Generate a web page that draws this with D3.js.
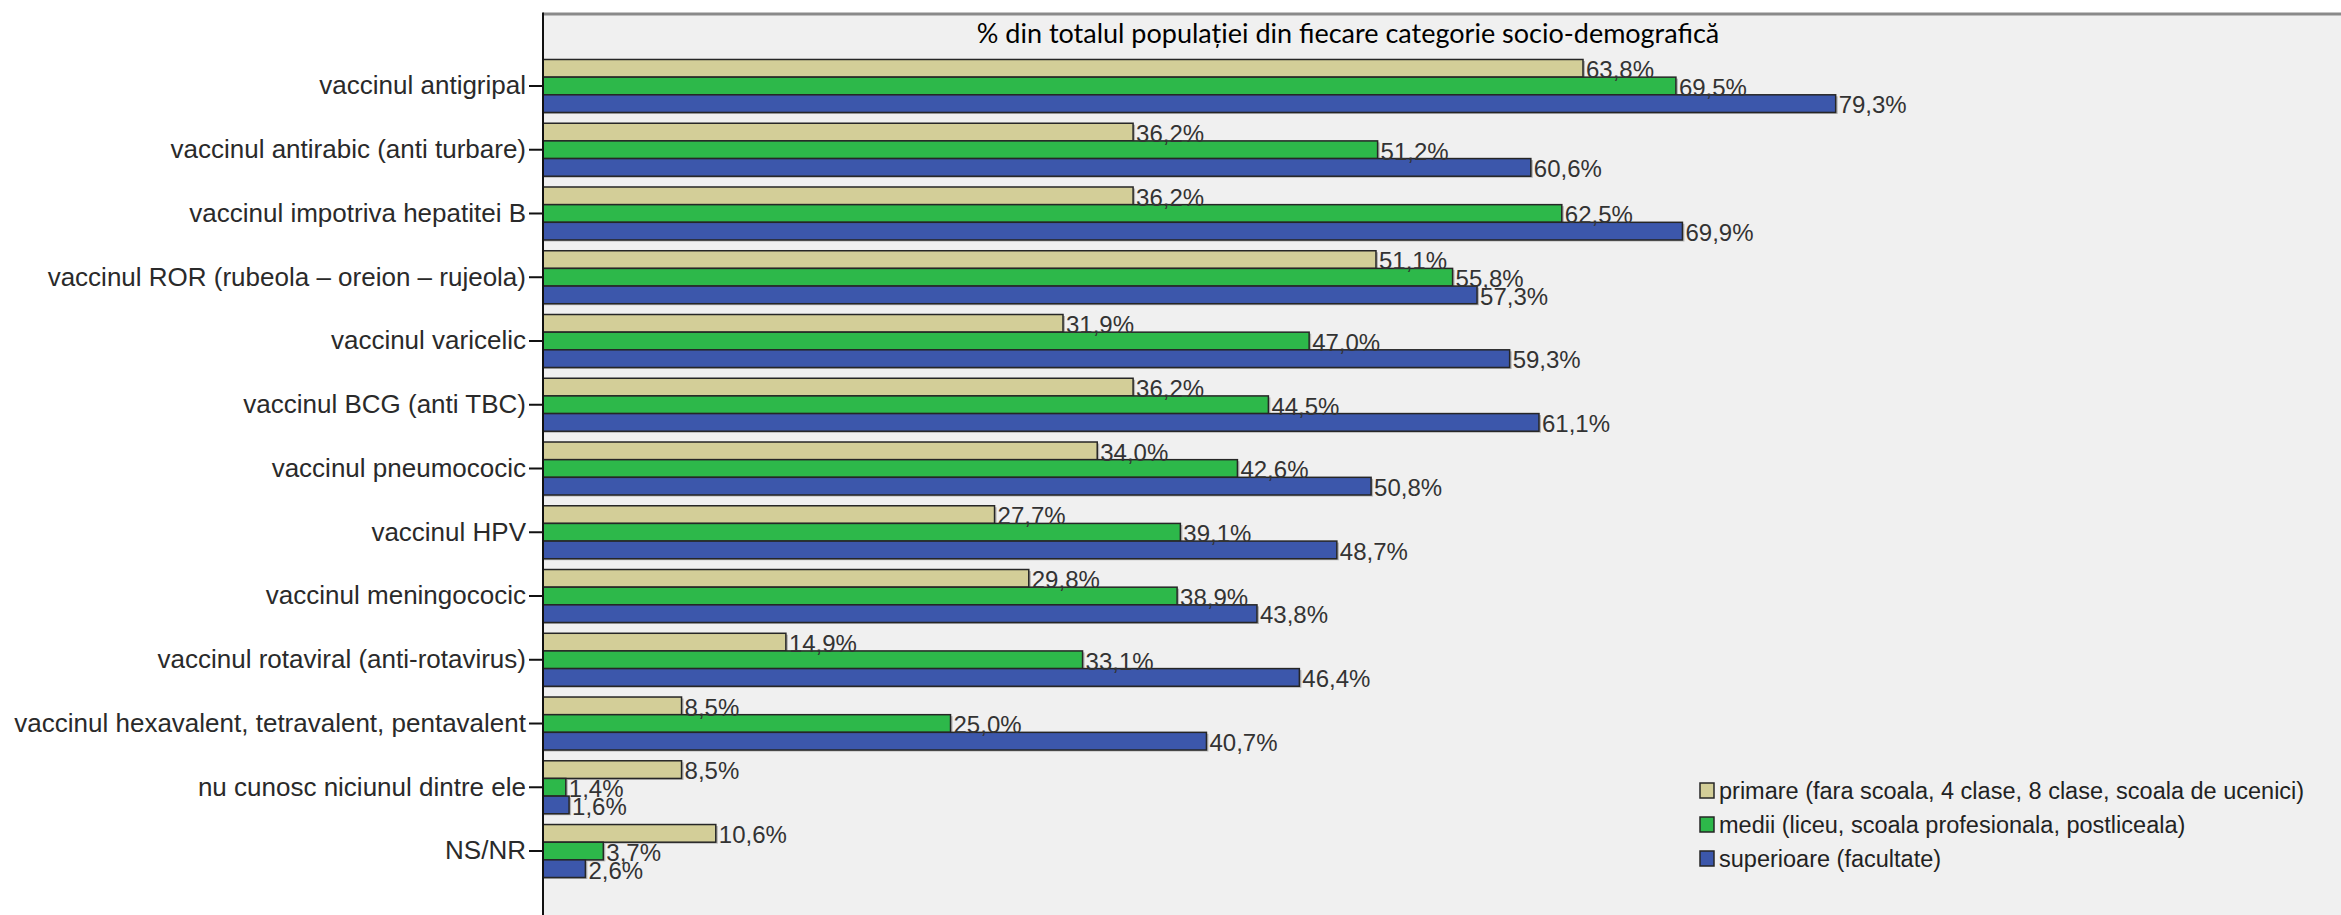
<!DOCTYPE html>
<html>
<head>
<meta charset="utf-8">
<script src="https://cdn.jsdelivr.net/npm/d3@7"></script>
<style>
    body { margin:0; background:#fff; }
    #chart { width:2341px; height:915px; }
</style>
</head>
<body>
<div id="chart"></div>
<script>

var categories = [
    "vaccinul antigripal",
    "vaccinul antirabic (anti turbare)",
    "vaccinul impotriva hepatitei B",
    "vaccinul ROR (rubeola \u2013 oreion \u2013 rujeola)",
    "vaccinul varicelic",
    "vaccinul BCG (anti TBC)",
    "vaccinul pneumococic",
    "vaccinul HPV",
    "vaccinul meningococic",
    "vaccinul rotaviral (anti-rotavirus)",
    "vaccinul hexavalent, tetravalent, pentavalent",
    "nu cunosc niciunul dintre ele",
    "NS/NR"
];

var seriesNames = [
    "primare (fara scoala, 4 clase, 8 clase, scoala de ucenici)",
    "medii (liceu, scoala profesionala, postliceala)",
    "superioare (facultate)"
];

var primare    = [63.8, 36.2, 36.2, 51.1, 31.9, 36.2, 34.0, 27.7, 29.8, 14.9, 8.5, 8.5, 10.6];
var medii      = [69.5, 51.2, 62.5, 55.8, 47.0, 44.5, 42.6, 39.1, 38.9, 33.1, 25.0, 1.4, 3.7];
var superioare = [79.3, 60.6, 69.9, 57.3, 59.3, 61.1, 50.8, 48.7, 43.8, 46.4, 40.7, 1.6, 2.6];

var colors = ["#d3ce98", "#2db84a", "#3c57ab"];

var title = "% din totalul popula\u021biei din fiecare categorie socio-demografic\u0103";

(function draw() {

    var width = 2341, height = 915;
    var plot = {left:543, top:14, right:2341, bottom:915};

    var svg = d3.select("#chart")
        .append("svg")
        .attr("width", width)
        .attr("height", height);

    // rows for the bars
    var rows = categories.map(function(c, i) {
        return {cat:c, values:[primare[i], medii[i], superioare[i]]};
    });

    var x = d3.scaleLinear().domain([0, 110.3]).range([plot.left, plot.right]);

    var y = d3.scaleBand()
        .domain(categories)
        .range([54.1, 882.9])
        .paddingInner(0.169)
        .paddingOuter(0.0845);

    var ySub = d3.scaleBand().domain([0, 1, 2]).range([0, y.bandwidth()]);

    var locale = d3.formatLocale({decimal:",", thousands:".", grouping:[3], currency:["", ""]});
    var fmt = locale.format(".1f");

    // plot background + frame
    svg.append("rect")
        .attr("x", plot.left).attr("y", plot.top)
        .attr("width", plot.right - plot.left).attr("height", plot.bottom - plot.top)
        .attr("fill", "#f0f0f0");

    svg.append("line")
        .attr("x1", plot.left).attr("x2", plot.right)
        .attr("y1", plot.top).attr("y2", plot.top)
        .attr("stroke", "#8a8a8a").attr("stroke-width", 3);

    svg.append("text")
        .attr("x", 1348).attr("y", 43)
        .attr("text-anchor", "middle")
        .style("font-family", "Lato, 'Open Sans', sans-serif")
        .style("font-size", "27px")
        .attr("fill", "#000")
        .text(title);

    var groups = svg.selectAll(".grp")
        .data(rows)
        .enter().append("g")
        .attr("class", "grp")
        .attr("transform", function(d) { return "translate(0," + y(d.cat) + ")"; });

    // light shadow under each bar
    groups.selectAll(".shadow")
        .data(function(d) { return d.values; })
        .enter().append("rect")
        .attr("class", "shadow")
        .attr("x", x(0) + 1)
        .attr("y", function(d, i) { return ySub(i) + 1.5; })
        .attr("width", function(d) { return x(d) - x(0) + 1; })
        .attr("height", ySub.bandwidth())
        .attr("fill", "#b4b4b4");

    groups.selectAll(".bar")
        .data(function(d) { return d.values; })
        .enter().append("rect")
        .attr("class", "bar")
        .attr("x", x(0))
        .attr("y", function(d, i) { return ySub(i); })
        .attr("width", function(d) { return x(d) - x(0); })
        .attr("height", ySub.bandwidth())
        .attr("fill", function(d, i) { return colors[i]; })
        .attr("stroke", "#262626")
        .attr("stroke-width", 1.5);

    groups.selectAll(".val")
        .data(function(d) { return d.values; })
        .enter().append("text")
        .attr("class", "val")
        .attr("x", function(d) { return x(d) + 3; })
        .attr("y", function(d, i) { return ySub(i) + ySub.bandwidth() + 1; })
        .style("font-family", "'Liberation Sans', Arial, sans-serif")
        .style("font-size", "24px")
        .attr("fill", "#333")
        .text(function(d) { return fmt(d) + "%"; });

    // category axis on the left
    var yAxis = d3.axisLeft(y).tickSize(14).tickPadding(3);
    var ax = svg.append("g")
        .attr("transform", "translate(" + plot.left + ",0)")
        .call(yAxis);
    ax.select(".domain").remove();
    ax.selectAll(".tick line").attr("stroke", "#111").attr("stroke-width", 2);
    ax.selectAll(".tick text")
        .style("font-family", "'Liberation Sans', Arial, sans-serif")
        .style("font-size", "26px")
        .attr("fill", "#2a2a2a");

    svg.append("line")
        .attr("x1", plot.left).attr("x2", plot.left)
        .attr("y1", plot.top - 1.5).attr("y2", plot.bottom)
        .attr("stroke", "#111").attr("stroke-width", 2);

    // legend
    var legend = svg.selectAll(".leg")
        .data(seriesNames)
        .enter().append("g")
        .attr("class", "leg")
        .attr("transform", function(d, i) { return "translate(1700," + (791 + i * 34) + ")"; });

    legend.append("rect")
        .attr("x", 0).attr("y", -8)
        .attr("width", 14).attr("height", 15)
        .attr("fill", function(d, i) { return colors[i]; })
        .attr("stroke", "#262626")
        .attr("stroke-width", 1.5);

    legend.append("text")
        .attr("x", 19).attr("y", 0)
        .attr("dy", "0.35em")
        .style("font-family", "'Liberation Sans', Arial, sans-serif")
        .style("font-size", "23.5px")
        .attr("fill", "#222")
        .text(function(d) { return d; });

})();

</script>
</body>
</html>
